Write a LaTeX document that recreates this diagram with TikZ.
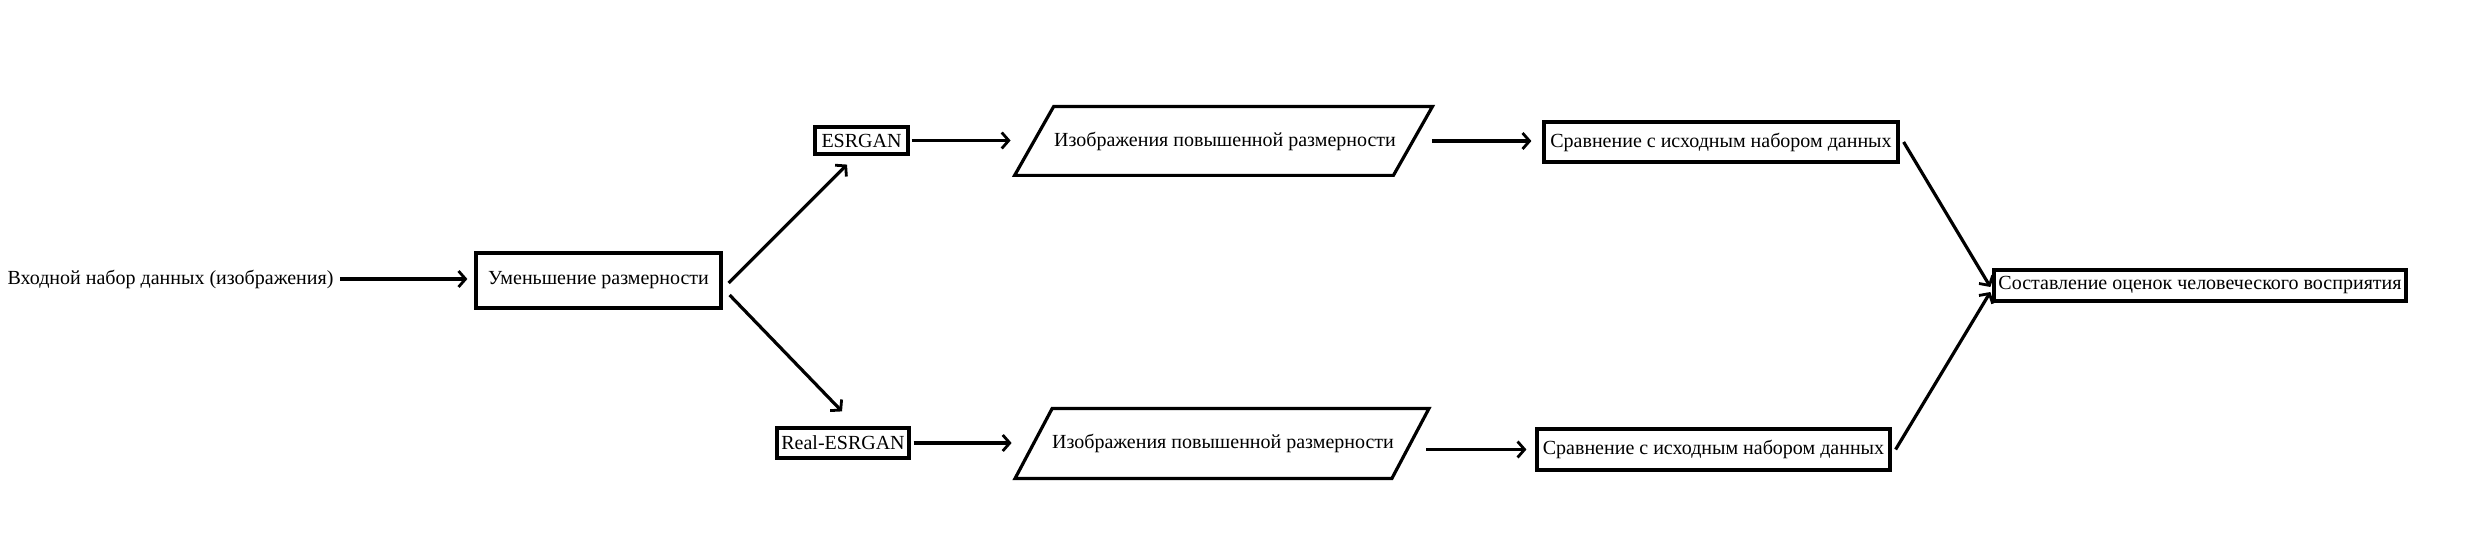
\documentclass[tikz,border=0pt]{standalone}
\usepackage{fontspec}
\setmainfont{Liberation Serif}
\usetikzlibrary{arrows.meta}
\newcommand\fsz{\fontsize{10}{12}\selectfont}
\begin{document}
\begin{tikzpicture}[x=0.5pt,y=-0.5pt,
  box/.style={draw,line width=1.6pt,inner sep=0pt,align=center,font=\fsz},
  plain/.style={inner sep=0pt,align=center,font=\fsz},
  arr/.style={-{Straight Barb[length=3.5pt,width=8pt,line width=1.4pt]},line width=1.6pt},
  para/.style={line width=1.6pt}]
\useasboundingbox (0,0) rectangle (2486,534);

\node[plain] (in) at (170.5,279) {Входной набор данных (изображения)};
\node[box,minimum width=122.5pt,minimum height=27.5pt] (down) at (598.5,280.5) {Уменьшение размерности};
\node[box,minimum width=46.5pt,minimum height=13.5pt] (esr) at (861.5,140.5) {ESRGAN};
\node[box,minimum width=66pt,minimum height=15pt] (resr) at (843,443) {Real-ESRGAN};
\node[plain,minimum width=189pt,minimum height=34pt] (p1) at (1225,141) {Изображения повышенной размерности};
\node[plain,minimum width=188pt,minimum height=34.5pt] (p2) at (1223,443.5) {Изображения повышенной размерности};
\node[box,minimum width=177pt,minimum height=20pt] (cmp1) at (1721,142) {Сравнение с исходным набором данных};
\node[box,minimum width=176.5pt,minimum height=20.5pt] (cmp2) at (1713.5,449.5) {Сравнение с исходным набором данных};
\node[box,minimum width=206pt,minimum height=15.5pt] (fin) at (2200,285.5) {Составление оценок человеческого восприятия};

\draw[para] ([xshift=-10.5pt]p1.south west) -- ([xshift=-10.5pt]p1.south east) -- ([xshift=9pt]p1.north east) -- ([xshift=9pt]p1.north west) -- cycle;
\draw[para] ([xshift=-9.75pt]p2.south west) -- ([xshift=-9.75pt]p2.south east) -- ([xshift=8.75pt]p2.north east) -- ([xshift=8.75pt]p2.north west) -- cycle;

\draw[arr] ([xshift=3pt]in.east) -- ([xshift=-3.5pt]in.east -| down.west);
\draw[arr] ([xshift=3pt,yshift=-1.25pt]down.east) -- ([xshift=-7.25pt,yshift=-4.5pt]esr.south);
\draw[arr] ([xshift=3.5pt,yshift=-7.25pt]down.east) -- ([xshift=-0.5pt,yshift=7.5pt]resr.north);
\draw[arr] ([xshift=1pt]esr.east) -- ([xshift=-12.5pt]esr.east -| p1.west);
\draw[arr] ([xshift=1.5pt]resr.east) -- ([xshift=-11.5pt]resr.east -| p2.west);
\draw[arr] ([xshift=8.75pt]p1.east) -- ([xshift=-5.5pt]p1.east -| cmp1.west);
\draw[arr] ([xshift=7.5pt]cmp2.west -| p2.east) -- ([xshift=-4.5pt]cmp2.west);
\draw[arr] ([xshift=2pt]cmp1.east) -- ([xshift=-1pt,yshift=-0.75pt]fin.west);
\draw[arr] ([xshift=2pt]cmp2.east) -- ([xshift=-1pt,yshift=-3.25pt]fin.west);
\end{tikzpicture}
\end{document}
